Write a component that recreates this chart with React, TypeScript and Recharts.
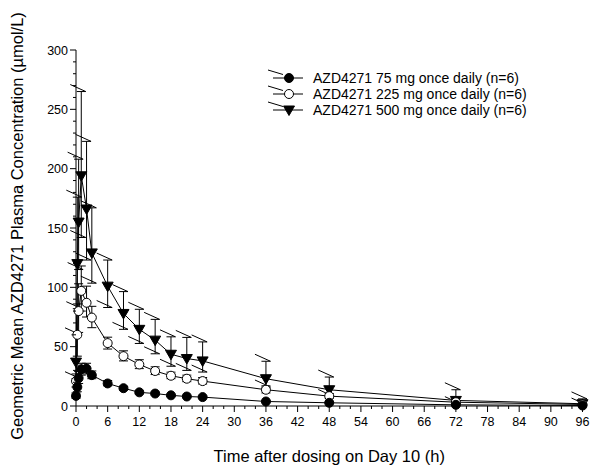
import { LineChart, Line, XAxis, YAxis, ErrorBar, Legend } from "recharts";

// sampling times (h)
const times = [0, 0.25, 0.5, 1, 2, 3, 6, 9, 12, 15, 18, 21, 24, 36, 48, 72, 96];

// geometric mean and lower / upper bar ends, µmol/L
const mean75 = [8.5, 16, 23.5, 31, 31.5, 26, 19, 15, 11.5, 10.5, 9, 8, 7.5, 3.8, 2.7, 1, 0.4];
const low75 = [6.5, 12, 19, 26, 27, 23, 17, 13.5, 10.3, 9.4, 8, 7.1, 6.7, 3.2, 2.2, 0.7, 0.25];
const high75 = [11, 21, 29, 36, 36, 29.5, 21.5, 16.5, 12.8, 11.7, 10, 9, 8.4, 4.5, 3.3, 1.4, 0.6];

const mean225 = [21, 60, 80, 97, 87, 74.5, 53, 42, 35, 29.5, 25.5, 23, 21, 13.7, 8.3, 3.2, 1.3];
const low225 = [16, 42, 62, 80, 75, 66, 48, 38, 31.5, 26.5, 23, 20.5, 18.5, 11, 6.5, 2.3, 0.8];
const high225 = [27, 86, 103, 118, 101, 84, 58, 46.5, 39, 33, 28.5, 26, 24, 17, 10.5, 4.5, 2];

const mean500 = [37, 120, 155, 194, 166, 129, 101, 78, 64.6, 55.5, 43.6, 40, 38, 23, 13.7, 4.7, 1.9];
const low500 = [23, 82, 115, 142, 123, 103.5, 83, 64.6, 52.7, 44, 33.5, 30, 28.6, 16, 8, 2, 0.8];
const high500 = [60, 176, 208, 265, 223, 167, 123, 96.4, 81.5, 73, 58.3, 57.8, 54, 37.7, 24.4, 13.7, 6];

const seriesNames = [
  "AZD4271 75 mg once daily (n=6)",
  "AZD4271 225 mg once daily (n=6)",
  "AZD4271 500 mg once daily (n=6)",
];

const yTicks = Array.from({ length: 31 }, (_, i) => i * 10);
const xTicks = Array.from({ length: 49 }, (_, i) => i * 2);

const data = times.map((t, i) => ({
  t,
  m75: mean75[i],
  e75: [mean75[i] - low75[i], high75[i] - mean75[i]],
  m225: mean225[i],
  e225: [mean225[i] - low225[i], high225[i] - mean225[i]],
  m500: mean500[i],
  e500: [mean500[i] - low500[i], high500[i] - mean500[i]],
  hi500: high500[i],
  lo500: low500[i],
}));

const FONT = "Arial, 'Liberation Sans', sans-serif";

const FilledCircle = (p: any) => (
  <circle key={p.key} cx={p.cx} cy={p.cy} r={4.5} fill="#000" stroke="#000" />
);
const OpenCircle = (p: any) => (
  <circle key={p.key} cx={p.cx} cy={p.cy} r={4.5} fill="#fff" stroke="#000" />
);
const DownTriangle = (p: any) => (
  <path
    key={p.key}
    d={`M${p.cx - 5.5},${p.cy - 4} L${p.cx + 5.5},${p.cy - 4} L${p.cx},${p.cy + 5.5} Z`}
    fill="#000"
    stroke="#000"
  />
);
// odd slanted stroke that the original plot draws next to each cap
const Slash = (p: any) => (
  <line
    key={p.key}
    x1={p.cx - 11}
    y1={p.cy - 7}
    x2={p.cx + 4.5}
    y2={p.cy}
    stroke="#000"
    strokeWidth={1}
  />
);

function YTick({ x, y, payload }: any) {
  const major = payload.value % 50 === 0;
  return (
    <g>
      <line x1={x} x2={x - (major ? 6 : 3)} y1={y} y2={y} stroke="#000" />
      {major && (
        <text x={x - 8} y={y + 4.5} textAnchor="end" fontSize={12.5} fontFamily={FONT} fill="#000">
          {payload.value}
        </text>
      )}
    </g>
  );
}

function XTick({ x, y, payload }: any) {
  const major = payload.value % 6 === 0;
  return (
    <g>
      <line x1={x} x2={x} y1={y} y2={y + (major ? 6 : 3)} stroke="#000" />
      {major && (
        <text x={x} y={y + 20} textAnchor="middle" fontSize={12.5} fontFamily={FONT} fill="#000">
          {payload.value}
        </text>
      )}
    </g>
  );
}

const markers = [FilledCircle, OpenCircle, DownTriangle];

function LegendBox() {
  return (
    <div style={{ fontFamily: FONT, fontSize: 14, color: "#000", lineHeight: "16px" }}>
      {seriesNames.map((name, i) => {
        const M = markers[i];
        return (
          <div key={name} style={{ display: "flex", alignItems: "center", height: 16 }}>
            <svg width={50} height={16} style={{ overflow: "visible", flex: "none" }}>
              <line x1={5} y1={0} x2={20} y2={4.5} stroke="#000" />
              <line x1={10} y1={8} x2={40} y2={8} stroke="#000" />
              <M cx={26} cy={8} />
            </svg>
            <span style={{ whiteSpace: "nowrap" }}>{name}</span>
          </div>
        );
      })}
    </div>
  );
}

export default function App() {
  return (
    <div style={{ position: "absolute", left: 0, top: 0, width: 602, height: 471, background: "#fff" }}>
      <LineChart
        width={602}
        height={471}
        data={data}
        margin={{ top: 50, right: 19.5, left: 0, bottom: 0 }}
        style={{ overflow: "visible" }}
      >
        <XAxis
          dataKey="t"
          type="number"
          domain={[0, 96]}
          ticks={xTicks}
          interval={0}
          height={65}
          tickSize={0}
          tickMargin={0}
          tickLine={false}
          tick={<XTick />}
          stroke="#000"
          label={{
            content: ({ viewBox }: any) => (
              <text
                x={viewBox.x + viewBox.width / 2}
                y={viewBox.y + 56}
                textAnchor="middle"
                fontSize={16.5}
                fontFamily={FONT}
                fill="#000"
              >
                Time after dosing on Day 10 (h)
              </text>
            ),
          }}
        />
        <YAxis
          type="number"
          domain={[0, 300]}
          ticks={yTicks}
          interval={0}
          width={76}
          tickSize={0}
          tickMargin={0}
          tickLine={false}
          tick={<YTick />}
          stroke="#000"
          label={{
            content: ({ viewBox }: any) => {
              const cx = 23;
              const cy = viewBox.y + viewBox.height / 2 - 2;
              return (
                <text
                  x={cx}
                  y={cy}
                  textAnchor="middle"
                  fontSize={16.5}
                  fontFamily={FONT}
                  fill="#000"
                  transform={`rotate(-90 ${cx} ${cy})`}
                >
                  Geometric Mean AZD4271 Plasma Concentration (µmol/L)
                </text>
              );
            },
          }}
        />
        <Legend
          layout="horizontal"
          verticalAlign="middle"
          align="center"
          content={<LegendBox />}
          wrapperStyle={{ position: "absolute", left: 263, top: 70, width: "auto" }}
        />
        <Line dataKey="hi500" stroke="none" dot={Slash} activeDot={false} legendType="none" isAnimationActive={false} />
        <Line dataKey="lo500" stroke="none" dot={Slash} activeDot={false} legendType="none" isAnimationActive={false} />
        <Line dataKey="m500" stroke="#000" strokeWidth={1} dot={DownTriangle} activeDot={false} isAnimationActive={false}>
          <ErrorBar dataKey="e500" width={4.5} stroke="#000" strokeWidth={1} direction="y" />
        </Line>
        <Line dataKey="m225" stroke="#000" strokeWidth={1} dot={OpenCircle} activeDot={false} isAnimationActive={false}>
          <ErrorBar dataKey="e225" width={4.5} stroke="#000" strokeWidth={1} direction="y" />
        </Line>
        <Line dataKey="m75" stroke="#000" strokeWidth={1} dot={FilledCircle} activeDot={false} isAnimationActive={false}>
          <ErrorBar dataKey="e75" width={4.5} stroke="#000" strokeWidth={1} direction="y" />
        </Line>
      </LineChart>
    </div>
  );
}
